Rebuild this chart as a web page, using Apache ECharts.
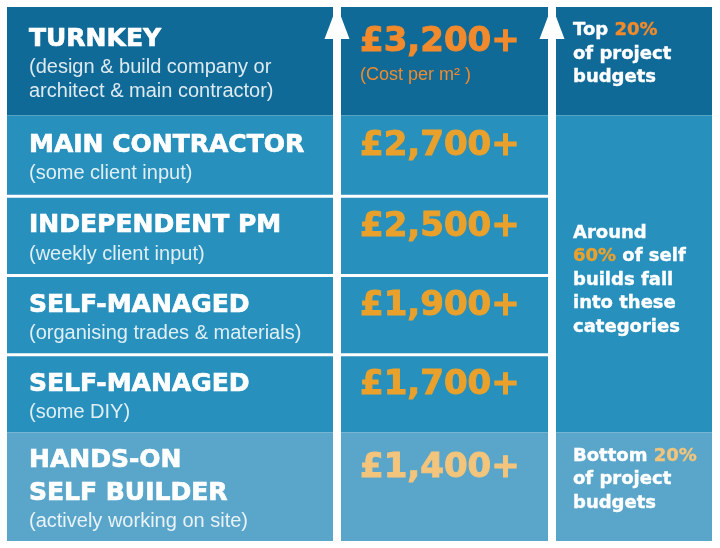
<!DOCTYPE html>
<html><head><meta charset="utf-8">
<script src="https://cdn.jsdelivr.net/npm/echarts/dist/echarts.min.js"></script>
<style>html,body{margin:0;padding:0;background:#fff}#c{width:720px;height:548px}</style>
</head><body><div id="c"></div>
<script>
// ---- data ----
const titles = ['TURNKEY', 'MAIN CONTRACTOR', 'INDEPENDENT PM', 'SELF-MANAGED', 'SELF-MANAGED', 'HANDS-ON\nSELF BUILDER'];
const subtitles = ['(design & build company or\narchitect & main contractor)', '(some client input)', '(weekly client input)', '(organising trades & materials)', '(some DIY)', '(actively working on site)'];
const costs = [3200, 2700, 2500, 1900, 1700, 1400];
const costNote = '(Cost per m\u00b2 )';
const rowBand = [0, 1, 1, 1, 1, 2];
const bandPrefix = ['Top ', 'Around\n', 'Bottom '];
const bandShare = [20, 60, 20];
const bandSuffix = ['\nof project\nbudgets', ' of self\nbuilds fall\ninto these\ncategories', '\nof project\nbudgets'];

// ---- style ----
const bandColors = ['#0f6a98', '#2790bc', '#5aa6ca'];
const accentColors = ['#f08a2c', '#e9a12c', '#f2c47c'];
const COL1 = [0, 326], COL2 = [334, 541], COL3 = [549, 705];
const arrowX = [330, 545];

// ---- layout derived from text ----
const rowLines = titles.map((t, i) => t.split('\n').length + subtitles[i].split('\n').length);
const rowStart = [], rowEnd = [];
let acc = 0;
rowLines.forEach(n => { rowStart.push(acc); acc += n + 0.7; rowEnd.push(acc); });
const total = acc;
const bandFirst = bandShare.map((_, b) => rowBand.indexOf(b));
const bandLast = bandShare.map((_, b) => rowBand.lastIndexOf(b));

const fmt = n => String(n).replace(/\B(?=(\d{3})+(?!\d))/g, ',');

function renderRow(params, api) {
  const i = params.dataIndex;
  const gap = (i > 0 && rowBand[i] === rowBand[i - 1]) ? 3 : 0;
  const a = api.coord([COL1[0], rowStart[i]]), b = api.coord([COL1[1], rowEnd[i]]);
  const c = api.coord([COL2[0], rowStart[i]]), d = api.coord([COL2[1], rowEnd[i]]);
  const top = a[1] + gap, bottom = b[1];
  const center = (top + bottom) / 2;
  const fill = bandColors[rowBand[i]];
  const label = titles[i].split('\n').map(s => '{t|' + s + '}')
    .concat(subtitles[i].split('\n').map(s => '{s|' + s + '}')).join('\n');
  const price = '{p|\u00a3' + fmt(costs[i]) + '+}' + (i === 0 ? '\n{n|' + costNote + '}' : '');
  const accent = accentColors[rowBand[i]];
  const priceBaseline = center - 10 * (rowLines[i] - 2);
  return {
    type: 'group', children: [
      { type: 'rect', shape: { x: a[0], y: top, width: b[0] - a[0], height: bottom - top }, style: { fill } },
      { type: 'rect', shape: { x: c[0], y: top, width: d[0] - c[0], height: bottom - top }, style: { fill } },
      { type: 'text', style: {
          x: a[0] + 22, y: center + 2, text: label, align: 'left', verticalAlign: 'middle',
          rich: {
            t: { fontFamily: 'DejaVu Sans', fontWeight: 'bold', fontSize: 25, lineHeight: 33, fill: '#ffffff', stroke: '#ffffff', lineWidth: 0.7 },
            s: { fontFamily: 'Liberation Sans', fontSize: 20, lineHeight: 24, fill: 'rgba(255,255,255,0.86)' }
          } } },
      { type: 'text', style: {
          x: c[0] + 19, y: priceBaseline - 27, text: price, align: 'left', verticalAlign: 'top',
          rich: {
            p: { fontFamily: 'DejaVu Sans', fontWeight: 'bold', fontSize: 34, lineHeight: 36, fill: accent, stroke: accent, lineWidth: 1 },
            n: { fontFamily: 'Liberation Sans', fontSize: 18, lineHeight: 30, fill: accent }
          } } }
    ]
  };
}

function renderBand(params, api) {
  const bi = params.dataIndex;
  const gA = api.coord([COL3[0], rowStart[bandFirst[bi]]]);
  const gB = api.coord([COL3[1], rowEnd[bandLast[bi]]]);
  const single = bandFirst[bi] === bandLast[bi];
  const raw = bandPrefix[bi] + '{a|' + bandShare[bi] + '%}' + bandSuffix[bi];
  const txt = raw.split('\n').map(l => l.replace(/^([^{]+)/, '{w|$1}').replace(/\}([^{}]+)$/, '}{w|$1}')).join('\n');
  return {
    type: 'group', children: [
      { type: 'rect', shape: { x: gA[0], y: gA[1], width: gB[0] - gA[0], height: gB[1] - gA[1] }, style: { fill: bandColors[bi] } },
      { type: 'text', style: {
          x: gA[0] + 17, y: single ? gA[1] + 12 : (gA[1] + gB[1]) / 2 + 6,
          text: txt, align: 'left', verticalAlign: single ? 'top' : 'middle',
          rich: {
            w: { fontFamily: 'DejaVu Sans', fontWeight: 'bold', fontSize: 18, lineHeight: 23.5, fill: '#ffffff', stroke: '#ffffff', lineWidth: 0.4 },
            a: { fontFamily: 'DejaVu Sans', fontWeight: 'bold', fontSize: 18, lineHeight: 23.5, fill: accentColors[bi], stroke: accentColors[bi], lineWidth: 0.4 }
          } } }
    ]
  };
}

function renderArrow(params, api) {
  const x = arrowX[params.dataIndex];
  const t = api.coord([x, 0]), bt = api.coord([x, total]);
  return {
    type: 'group', children: [
      { type: 'rect', shape: { x: t[0] - 3, y: t[1] + 20, width: 6, height: bt[1] - t[1] - 20 }, style: { fill: '#ffffff' } },
      { type: 'polygon', shape: { points: [[t[0], t[1] - 1], [t[0] + 12.5, t[1] + 32], [t[0] - 12.5, t[1] + 32]] }, style: { fill: '#ffffff' } }
    ]
  };
}

const chart = echarts.init(document.getElementById('c'), null, { renderer: 'canvas' });
chart.setOption({
  animation: false,
  backgroundColor: '#ffffff',
  grid: { left: 7, right: 8, top: 7, bottom: 7, show: false },
  xAxis: { type: 'value', min: 0, max: 705, show: false },
  yAxis: { type: 'value', min: 0, max: total, inverse: true, show: false },
  series: [
    { type: 'custom', renderItem: renderRow, data: titles.map((t, i) => [COL1[0], rowStart[i], rowEnd[i]]), z: 1 },
    { type: 'custom', renderItem: renderBand, data: bandShare.map((s, b) => [COL3[0], rowStart[bandFirst[b]], s]), z: 1 },
    { type: 'custom', renderItem: renderArrow, data: arrowX.map(x => [x, 0]), z: 3 }
  ]
});
</script>
</body></html>
